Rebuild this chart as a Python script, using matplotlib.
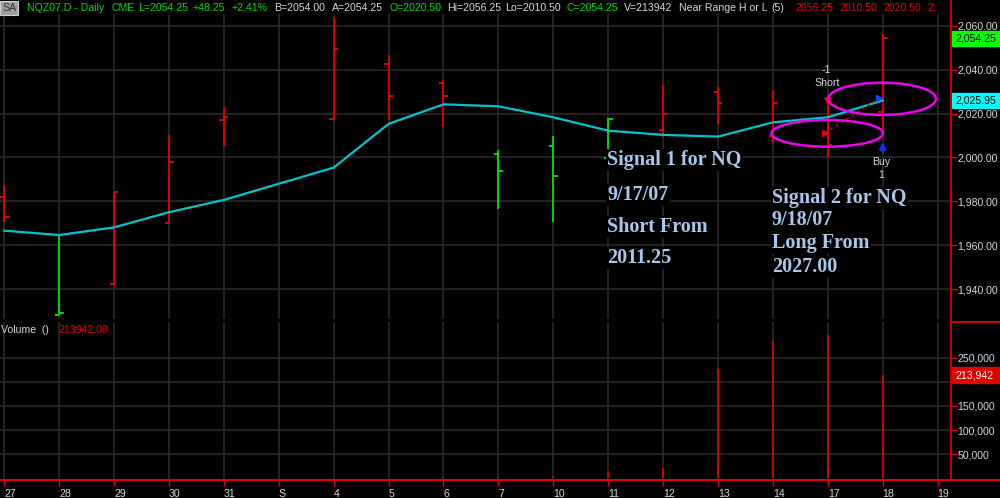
import numpy as np
import matplotlib
matplotlib.use("Agg")
from matplotlib import pyplot as plt
from matplotlib.patches import Ellipse, Rectangle
from matplotlib.lines import Line2D
import matplotlib.transforms as mtransforms

# session labels (S = September month marker, no bar)
dates = ["27", "28", "29", "30", "31", "S", "4", "5", "6", "7", "10", "11", "12", "13", "14", "17", "18", "19"]

nan = np.nan
opens  = [1981.9, 1928.5, 1942.4, 1970.1, 2017.2, nan, 2017.4, 2042.4, 2033.8, 2001.5, 2005.2, 1999.8, 2012.5, 2030.0, 2009.8, 2011.25, 2020.50, nan]
highs  = [1987.5, 1964.7, 1984.4, 2010.3, 2022.9, nan, 2063.5, 2046.7, 2035.3, 2003.4, 2009.8, 2018.1, 2033.0, 2032.0, 2030.7, 2028.5, 2056.25, nan]
lows   = [1970.7, 1928.3, 1941.7, 1969.7, 2005.2, nan, 2017.1, 2017.1, 2014.0, 1976.4, 1970.8, 1999.0, 2009.5, 2015.3, 2006.7, 2000.1, 2010.50, nan]
closes = [1972.8, 1929.4, 1984.2, 1997.8, 2018.4, nan, 2049.3, 2027.9, 2027.9, 1993.9, 1991.7, 2017.4, 2019.7, 2024.7, 2025.0, 2005.7, 2054.25, nan]
bar_colors = ["r", "g", "r", "r", "r", "", "r", "r", "r", "g", "g", "g", "r", "r", "r", "r", "r", ""]

ma = [1966.7, 1964.7, 1968.2, 1975.1, 1980.7, nan, 1995.4, 2015.3, 2024.2, 2023.3, 2018.3, 2012.2, 2010.3, 2009.5, 2016.0, 2018.3, 2025.95, nan]

volume = [300, 300, 300, 1000, 300, 0, 1000, 300, 4000, 2000, 5000, 12800, 22300, 226000, 284000, 296500, 213942, 0]

last_price = 2054.25
last_ma = 2025.95
last_vol = 213942

short_entry = 2011.25   # 9/17/07
long_entry = 2027.00    # 9/18/07

price_ticks = [1940, 1960, 1980, 2000, 2020, 2040, 2060]
vol_ticks = [50000, 100000, 150000, 200000, 250000]

RED = "#e00000"
GREEN = "#00d800"
TXT = "#d8d8d8"
GRID = "#2a2a2a"
SIG = "#aac6ec"

plt.rcParams["font.family"] = ["Liberation Sans", "DejaVu Sans"]

W, H = 1000, 498
fig = plt.figure(figsize=(10, 4.98), dpi=100, facecolor="black")

def fx(x):
    return x / W

def fy(y):
    return 1 - y / H

ax = fig.add_axes([0, fy(319), fx(951), (319 - 14) / H], facecolor="black")
axv = fig.add_axes([0, fy(480.3), fx(951), (480.3 - 322) / H], facecolor="black")

x = np.arange(len(dates))
xlim = (-0.078, 17.244)

# price bars
bar_col = {"r": RED, "g": GREEN}
tick = 0.08
for i in range(len(dates)):
    if bar_colors[i] == "":
        continue
    c = bar_col[bar_colors[i]]
    ax.vlines(x[i], lows[i], highs[i], color=c, lw=1.4, zorder=3)
    ax.hlines(opens[i], x[i] - tick, x[i], color=c, lw=1.4, zorder=3)
    ax.hlines(closes[i], x[i], x[i] + tick, color=c, lw=1.4, zorder=3)

ma_arr = np.array(ma)
ok = ~np.isnan(ma_arr)
ax.plot(x[ok], ma_arr[ok], color="#00c4cc", lw=1.6, zorder=4)

ax.set_xlim(*xlim)
ax.set_ylim(1926.5, 2065.3)
ax.set_xticks(x)
ax.set_yticks(price_ticks)
ax.set_yticklabels(["{:,.2f}".format(v) for v in price_ticks])
ax.grid(True, color=GRID, lw=1.2)
ax.set_axisbelow(True)
ax.yaxis.tick_right()
ax.tick_params(axis="x", length=0, labelbottom=False)
ax.tick_params(axis="y", colors=RED, labelcolor=TXT, length=4, width=1, labelsize=7.6, pad=0.5)
for s in ["top", "left", "bottom", "right"]:
    ax.spines[s].set_visible(False)

# trade markers and signals
ax.plot([x[15] - 0.05, x[16] - 0.06], [short_entry, long_entry], color=RED, lw=1, ls=(0, (2, 2.5)), zorder=5)
ax.plot(x[15] - 0.05, short_entry, marker=">", color=RED, ms=5, zorder=6)
ax.plot(x[16] - 0.06, long_entry, marker=">", color="#2040ff", ms=5, zorder=6)
ax.annotate("", xy=(x[15], 2022.2), xytext=(x[15], 2027.9),
            arrowprops=dict(arrowstyle="-|>", color=RED, lw=2, mutation_scale=8), zorder=6)
ax.annotate("", xy=(x[16], 2008.3), xytext=(x[16], 2001.7),
            arrowprops=dict(arrowstyle="-|>", color="#1030ff", lw=2, mutation_scale=8), zorder=6)
ax.text(x[15] - 0.02, 2039.8, "-1", color=TXT, fontsize=7.6, ha="center", va="center")
ax.text(x[15] - 0.02, 2033.8, "Short", color=TXT, fontsize=7.6, ha="center", va="center")
ax.text(x[16] - 0.02, 1998.1, "Buy", color=TXT, fontsize=7.6, ha="center", va="center")
ax.text(x[16] - 0.02, 1992.0, "1", color=TXT, fontsize=7.6, ha="center", va="center")

ax.add_patch(Ellipse((15.99, 2026.7), 1.96, 14.7, fill=False, ec="#ee00ee", lw=1.8, zorder=7))
ax.add_patch(Ellipse((14.99, 2011.0), 2.03, 12.15, fill=False, ec="#ee00ee", lw=1.8, zorder=7))

# last value boxes on the price scale
tr = mtransforms.blended_transform_factory(fig.transFigure, ax.transData)
for val, bg in [(last_price, "#00ff00"), (last_ma, "#00ffff")]:
    ax.add_patch(Rectangle((0.952, val - 3.3), 0.048, 6.6, transform=tr, color=bg, clip_on=False, zorder=8))
    ax.text(0.955, val, "{:,.2f}".format(val), transform=tr, color="black", fontsize=7.6,
            va="center", ha="left", clip_on=False, zorder=9)

# signal notes
sig_kw = dict(color=SIG, fontsize=14.5, fontweight="bold", family=["Liberation Serif", "DejaVu Serif"],
              ha="left", va="center", bbox=dict(facecolor="black", edgecolor="none", pad=1.0), zorder=10)
for txt, yy in [("Signal 1 for NQ", 160), ("9/17/07", 195), ("Short From", 227), ("2011.25", 258)]:
    fig.text(fx(607), fy(yy), txt, **sig_kw)
for txt, yy in [("Signal 2 for NQ", 198), ("9/18/07", 220), ("Long From", 243), ("2027.00", 267)]:
    fig.text(fx(772), fy(yy), txt, **sig_kw)

# volume panel
axv.vlines(x, 0, volume, color=RED, lw=1.3, zorder=3)
axv.set_xlim(*xlim)
axv.set_ylim(-3830, 323900)
axv.set_xticks(x)
axv.set_xticklabels(dates)
for lab in axv.get_xticklabels():
    lab.set_ha("left")
axv.set_yticks(vol_ticks)
# the 200,000 label sits under the last-volume box
axv.set_yticklabels(["" if v == 200000 else "{:,}".format(v) for v in vol_ticks])
axv.grid(True, color=GRID, lw=1.2)
axv.set_axisbelow(True)
axv.yaxis.tick_right()
axv.tick_params(axis="x", colors=RED, labelcolor=TXT, length=4, width=1, labelsize=7.6, pad=2)
axv.tick_params(axis="y", colors=RED, labelcolor=TXT, length=4, width=1, labelsize=7.6, pad=0.5)
for s in ["top", "left", "right", "bottom"]:
    axv.spines[s].set_visible(False)

trv = mtransforms.blended_transform_factory(fig.transFigure, axv.transData)
axv.add_patch(Rectangle((0.952, last_vol - 17000), 0.048, 34000, transform=trv, color=RED, clip_on=False, zorder=8))
axv.text(0.955, last_vol, "{:,}".format(last_vol), transform=trv, color="white", fontsize=7.6,
         va="center", ha="left", clip_on=False, zorder=9)

fig.text(fx(1), fy(330), "Volume  ()", color=TXT, fontsize=7.6, va="center")
fig.text(fx(58.7), fy(330), "{:.2f}".format(last_vol), color=RED, fontsize=7.6, va="center")

# red frame lines
fig.add_artist(Line2D([fx(951), fx(951)], [fy(0), fy(480.3)], color=RED, lw=1.3))
fig.add_artist(Line2D([0, 1], [fy(480.3), fy(480.3)], color=RED, lw=1.5))
fig.add_artist(Line2D([fx(951), 1], [fy(321.5), fy(321.5)], color=RED, lw=1.3))

# header line
fig.text(fx(2), fy(8), "SA", color="#303030", fontsize=7.6, va="center",
         bbox=dict(facecolor="#a0a0a0", edgecolor="#d0d0d0", pad=1.2, lw=0.8))
header = [
    (26.7, "NQZ07.D - Daily", GREEN), (111.7, "CME", GREEN), (137.7, "L=2054.25", GREEN),
    (193, "+48.25", GREEN), (231.7, "+2.41%", GREEN), (274, "B=2054.00", TXT),
    (331.7, "A=2054.25", TXT), (389, "O=2020.50", GREEN), (446.7, "Hi=2056.25", TXT),
    (505, "Lo=2010.50", TXT), (566.7, "C=2054.25", GREEN), (624, "V=213942", TXT),
    (679, "Near Range H or L", TXT), (771.7, "(5)", TXT), (795, "2056.25", RED),
    (839, "2010.50", RED), (883.3, "2020.50", RED), (927.3, "2.", RED),
]
for hx, txt, c in header:
    fig.text(fx(hx), fy(8), txt, color=c, fontsize=7.6, va="center", ha="left")

fig.savefig("out.png", dpi=100, facecolor="black")
